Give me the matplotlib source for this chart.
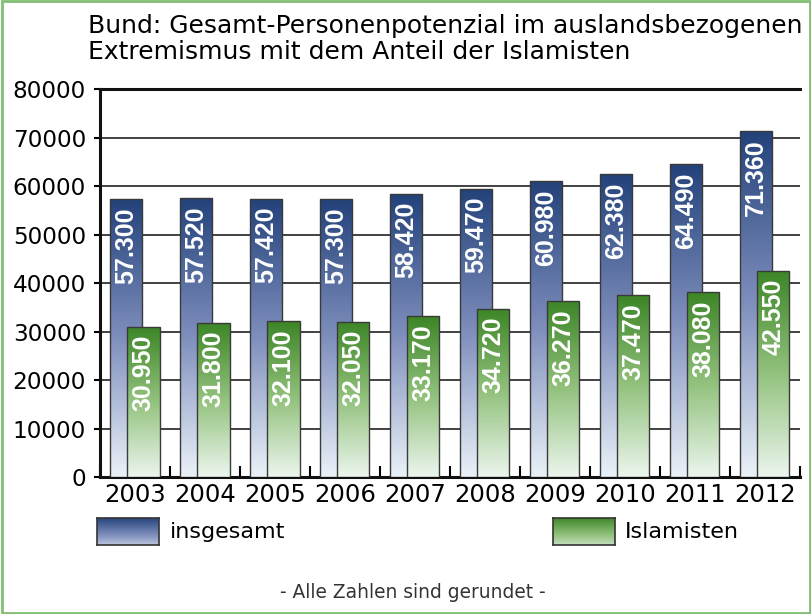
import numpy as np
import matplotlib.pyplot as plt
from matplotlib.colors import LinearSegmentedColormap
from matplotlib.patches import Rectangle

# data
years = ['2003', '2004', '2005', '2006', '2007', '2008', '2009', '2010', '2011', '2012']
insgesamt = [57300, 57520, 57420, 57300, 58420, 59470, 60980, 62380, 64490, 71360]
islamisten = [30950, 31800, 32100, 32050, 33170, 34720, 36270, 37470, 38080, 42550]
yticks = [0, 10000, 20000, 30000, 40000, 50000, 60000, 70000, 80000]

blue_cmap = LinearSegmentedColormap.from_list('blue', ['#eaf2f8', '#7f8fbd', '#23427a'])
green_cmap = LinearSegmentedColormap.from_list('green', ['#ecf6ee', '#93c27e', '#3c8526'])

plt.rcParams['font.family'] = ['DejaVu Sans']

fig = plt.figure(figsize=(8.12, 6.14), dpi=100)
fig.patch.set_facecolor('white')
fig.patches.append(Rectangle((0.002, 0.002), 0.996, 0.996, transform=fig.transFigure,
                             fill=False, edgecolor='#82bf73', linewidth=2))

ax = fig.add_axes([0.123, 0.223, 0.862, 0.632])

x = np.arange(len(years))
w = 0.46
off = 0.122


def gradient_bars(xpos, vals, cmap, z):
    bars = ax.bar(xpos, vals, width=w, facecolor='none', edgecolor='#3a3a3a',
                  linewidth=1, zorder=z + 0.5)
    grad = np.linspace(0, 1, 256).reshape(-1, 1)
    for b in bars:
        x0 = b.get_x()
        im = ax.imshow(grad, extent=[x0, x0 + b.get_width(), 0, b.get_height()],
                       origin='lower', aspect='auto', cmap=cmap, zorder=z)
        im.set_clip_path(b)
    return bars


lab_font = dict(rotation=90, ha='center', va='top', color='white', fontsize=18,
                fontweight='bold', family=['Liberation Sans', 'DejaVu Sans'])

gradient_bars(x - off, insgesamt, blue_cmap, 3)
for xi, v in zip(x - off, insgesamt):
    ax.text(xi, v - 1650, f'{v:,}'.replace(',', '.'), zorder=4, **lab_font)

gradient_bars(x + off, islamisten, green_cmap, 5)
for xi, v in zip(x + off, islamisten):
    ax.text(xi, v - 1650, f'{v:,}'.replace(',', '.'), zorder=6, **lab_font)

ax.set_xlim(-0.5, len(years) - 0.5)
ax.set_ylim(0, 80000)

for yv in yticks[1:-1]:
    ax.axhline(yv, color='#333333', linewidth=1.3, zorder=1)

ax.set_yticks(yticks)
ax.set_yticklabels([str(t) for t in yticks], fontsize=16.7)
ax.tick_params(axis='y', length=4, width=1.5, pad=6)

ax.set_xticks(np.arange(len(years) + 1) - 0.5)
ax.set_xticklabels([])
ax.set_xticks(x, minor=True)
ax.set_xticklabels(years, minor=True, fontsize=17.5)
ax.tick_params(axis='x', which='major', direction='in', length=8, width=1.5)
ax.tick_params(axis='x', which='minor', length=0, pad=4)

ax.spines['right'].set_visible(False)
for s in ['left', 'bottom', 'top']:
    ax.spines[s].set_linewidth(2.2)
    ax.spines[s].set_color('#111111')

fig.text(0.108, 0.978, 'Bund: Gesamt-Personenpotenzial im auslandsbezogenen\n'
         'Extremismus mit dem Anteil der Islamisten',
         ha='left', va='top', fontsize=18, linespacing=1.15)

# legend swatches
grad = np.linspace(0, 1, 64).reshape(-1, 1)
for left, cmap, label in [(0.12, blue_cmap, 'insgesamt'), (0.681, green_cmap, 'Islamisten')]:
    sw = fig.add_axes([left, 0.112, 0.076, 0.045])
    sw.imshow(grad, origin='lower', aspect='auto', cmap=cmap, vmin=-0.3, vmax=1)
    sw.set_xticks([])
    sw.set_yticks([])
    for s in sw.spines.values():
        s.set_linewidth(1.2)
        s.set_color('#333333')
    fig.text(left + 0.089, 0.134, label, ha='left', va='center', fontsize=16)

fig.text(0.508, 0.035, '- Alle Zahlen sind gerundet -', ha='center', va='center',
         fontsize=13.4, color='#333333')

plt.savefig('out.png', dpi=100)
